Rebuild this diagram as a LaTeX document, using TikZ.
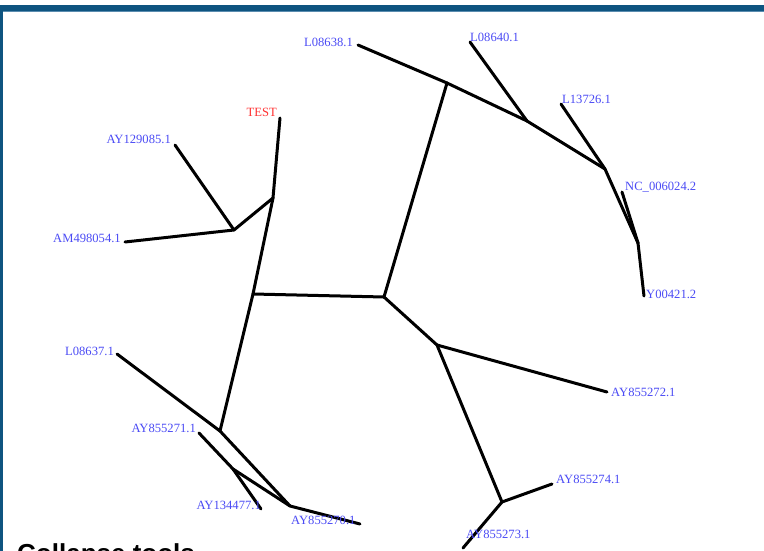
\documentclass[tikz,border=0pt]{standalone}
\usepackage{fontspec}
\setmainfont{Liberation Serif}
\newfontfamily\headfont{Liberation Sans}
\definecolor{framebl}{RGB}{14,84,128}
\definecolor{framelt}{RGB}{90,140,175}
\definecolor{leafbl}{RGB}{75,75,245}
\definecolor{leafrd}{RGB}{255,50,50}
\begin{document}
\begin{tikzpicture}[x=1pt,y=-1pt,
  edge/.style={line width=3pt,line cap=round,line join=round,black},
  leaf/.style={font=\fontsize{12.6}{14}\selectfont,text=leafbl,inner sep=0pt},
  testleaf/.style={leaf,text=leafrd}]
\useasboundingbox (0,0) rectangle (764,551);
\clip (0,0) rectangle (764,551);
\fill[white] (0,0) rectangle (764,551);
% frame
\fill[framebl] (0,5) rectangle (764,11);
\fill[framelt] (0,11) rectangle (764,12.5);
\fill[framebl] (0,11) rectangle (2.5,551);
% internal nodes
\coordinate (A) at (253,294);
\coordinate (B) at (384,297);
\coordinate (C) at (447,83);
\coordinate (D) at (527,121);
\coordinate (E) at (605,169);
\coordinate (N) at (638,243);
\coordinate (F) at (437,345);
\coordinate (G) at (502,502);
\coordinate (H) at (273,198);
\coordinate (I) at (234,230);
\coordinate (J) at (220,431);
\coordinate (K) at (290,506);
\coordinate (M) at (233,469);
% leaf ends
\coordinate (l1) at (358,45);
\coordinate (l2) at (470,42);
\coordinate (l3) at (561,104);
\coordinate (l4) at (622,192);
\coordinate (l5) at (644,296);
\coordinate (l6) at (607,392);
\coordinate (l7) at (552,484);
\coordinate (l8) at (463,548);
\coordinate (l9) at (360,524);
\coordinate (l10) at (261,509);
\coordinate (l11) at (199,433);
\coordinate (l12) at (117,354);
\coordinate (l13) at (125,242);
\coordinate (l14) at (175,145);
\coordinate (l15) at (280,118);
% edges
\draw[edge] (A) -- (B);
\draw[edge] (B) -- (C);
\draw[edge] (l1) -- (C);
\draw[edge] (C) -- (D);
\draw[edge] (l2) -- (D);
\draw[edge] (D) -- (E);
\draw[edge] (l3) -- (E);
\draw[edge] (E) -- (N);
\draw[edge] (l4) -- (N);
\draw[edge] (N) -- (l5);
\draw[edge] (B) -- (F);
\draw[edge] (F) -- (l6);
\draw[edge] (F) -- (G);
\draw[edge] (G) -- (l7);
\draw[edge] (G) -- (l8);
\draw[edge] (A) -- (H);
\draw[edge] (H) -- (l15);
\draw[edge] (H) -- (I);
\draw[edge] (I) -- (l14);
\draw[edge] (I) -- (l13);
\draw[edge] (A) -- (J);
\draw[edge] (J) -- (l12);
\draw[edge] (J) -- (K);
\draw[edge] (K) -- (l9);
\draw[edge] (K) -- (M);
\draw[edge] (M) -- (l11);
\draw[edge] (M) -- (l10);
% labels
\node[leaf,anchor=east] (t1) at (353,42) {L08638.1};
\node[leaf,anchor=west] (t2) at (470,37) {L08640.1};
\node[leaf,anchor=west] (t3) at (562,99) {L13726.1};
\node[leaf,anchor=west] (t4) at (625,187) {NC\_006024.2};
\node[leaf,anchor=west] (t5) at (646,294) {Y00421.2};
\node[leaf,anchor=west] (t6) at (611,392) {AY855272.1};
\node[leaf,anchor=west] (t7) at (556,479) {AY855274.1};
\node[leaf,anchor=west] (t8) at (466,534) {AY855273.1};
\node[leaf,anchor=west] (t9) at (291,520) {AY855270.1};
\node[leaf,anchor=east] (t10) at (261,505) {AY134477.1};
\node[leaf,anchor=east] (t11) at (196,428) {AY855271.1};
\node[leaf,anchor=east] (t12) at (114,351) {L08637.1};
\node[leaf,anchor=east] (t13) at (121,238) {AM498054.1};
\node[leaf,anchor=east] (t14) at (171,139) {AY129085.1};
\node[testleaf,anchor=east] (t15) at (277,112) {TEST};
% cut-off heading
\node[anchor=base west,inner sep=0pt,font=\headfont\bfseries\fontsize{26}{30}\selectfont] (hd) at (17,562) {Collapse tools};
\end{tikzpicture}
\end{document}
